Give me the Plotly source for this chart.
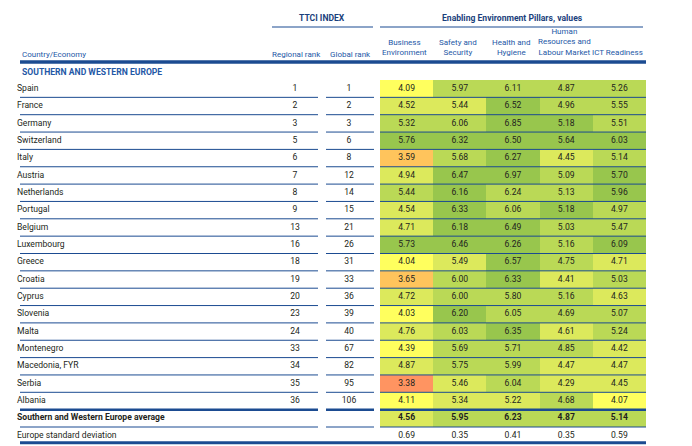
import plotly.graph_objects as go

# ── Data ──────────────────────────────────────────────────────────────────────
COUNTRIES = ["Spain", "France", "Germany", "Switzerland", "Italy", "Austria",
             "Netherlands", "Portugal", "Belgium", "Luxembourg", "Greece",
             "Croatia", "Cyprus", "Slovenia", "Malta", "Montenegro",
             "Macedonia, FYR", "Serbia", "Albania"]
REGIONAL_RANK = [1, 2, 3, 5, 6, 7, 8, 9, 13, 16, 18, 19, 20, 23, 24, 33, 34, 35, 36]
GLOBAL_RANK = [1, 2, 3, 6, 8, 12, 14, 15, 21, 26, 31, 33, 36, 39, 40, 67, 82, 95, 106]
PILLARS = ["Business<br>Environment", "Safety and<br>Security", "Health and<br>Hygiene",
           "Human<br>Resources and<br>Labour Market", "ICT Readiness"]
BUSINESS = [4.09, 4.52, 5.32, 5.76, 3.59, 4.94, 5.44, 4.54, 4.71, 5.73,
            4.04, 3.65, 4.72, 4.03, 4.76, 4.39, 4.87, 3.38, 4.11]
SAFETY = [5.97, 5.44, 6.06, 6.32, 5.68, 6.47, 6.16, 6.33, 6.18, 6.46,
          5.49, 6.00, 6.00, 6.20, 6.03, 5.69, 5.75, 5.46, 5.34]
HEALTH = [6.11, 6.52, 6.85, 6.50, 6.27, 6.97, 6.24, 6.06, 6.49, 6.26,
          6.57, 6.33, 5.80, 6.05, 6.35, 5.71, 5.99, 6.04, 5.22]
HUMAN = [4.87, 4.96, 5.18, 5.64, 4.45, 5.09, 5.13, 5.18, 5.03, 5.16,
         4.75, 4.41, 5.16, 4.69, 4.61, 4.85, 4.47, 4.29, 4.68]
ICT = [5.26, 5.55, 5.51, 6.03, 5.14, 5.70, 5.96, 4.97, 5.47, 6.09,
       4.71, 5.03, 4.63, 5.07, 5.24, 4.42, 4.47, 4.45, 4.07]
AVERAGE = [4.56, 5.95, 6.23, 4.87, 5.14]
STD_DEV = [0.69, 0.35, 0.41, 0.35, 0.59]
AVG_LABEL = "Southern and Western Europe average"
STD_LABEL = "Europe standard deviation"
REGION = "SOUTHERN AND WESTERN EUROPE"

# shading band cut points, one list per pillar (values below cut[k] -> band k)
CUTS = [[3.5, 3.8, 4.45, 5.0, 5.6],
        [1, 2, 3, 5.55, 6.1],
        [1, 2, 3, 5.5, 6.25],
        [1, 2, 3, 4.65, 5.17],
        [1, 2, 4.3, 4.9, 5.6]]
BAND_COLORS = ["#FF9461", "#FFC45C", "#FFFF5E", "#DCE95C", "#BAD956", "#98C64D"]

# ── Layout constants ──────────────────────────────────────────────────────────
W, H = 692, 446
PAD = 8  # page body margin around the plot div
FONT = "Roboto, Liberation Sans, sans-serif"
FS = 8.6
TXT = "#231F20"
BLUE = "#2458A6"
NAVY = "#1B3F7C"
LINE = "#1B4B91"
TOP, RH = 80, 17.35
X0, CW = 380, 53.2
NAME_X, REG_X, GLOB_X = 20, 295, 349
SEGS = [(20, 318), (326, 374), (380, 646)]


def row_y(i):
    return TOP + RH * (i + 0.5)


def band(v, cuts):
    return sum(v >= c for c in cuts)


columns = [BUSINESS, SAFETY, HEALTH, HUMAN, ICT]
n = len(COUNTRIES)
col_x = [X0 + CW * (j + 0.5) for j in range(5)]
ys = [row_y(i) for i in range(n + 1)]

z = []
for i in range(n):
    z.append([band(columns[j][i], CUTS[j]) for j in range(5)])
z.append([band(AVERAGE[j], CUTS[j]) for j in range(5)])

nb = len(BAND_COLORS)
colorscale = []
for k, c in enumerate(BAND_COLORS):
    colorscale += [[k / nb, c], [(k + 1) / nb, c]]

fig = go.Figure()
fig.add_trace(go.Heatmap(
    x=col_x, y=ys, z=z, zmin=-0.5, zmax=nb - 0.5,
    colorscale=colorscale, showscale=False, hoverinfo="skip",
))

body_font = dict(family=FONT, size=FS, color=TXT)

# pillar values
for j in range(5):
    fig.add_trace(go.Scatter(
        x=[col_x[j]] * n, y=ys[:n], mode="text",
        text=[f"{v:.2f}" for v in columns[j]],
        textfont=body_font, hoverinfo="skip",
    ))
fig.add_trace(go.Scatter(
    x=col_x, y=[row_y(n)] * 5, mode="text",
    text=[f"<b>{v:.2f}</b>" for v in AVERAGE],
    textfont=body_font, hoverinfo="skip",
))
fig.add_trace(go.Scatter(
    x=col_x, y=[row_y(n + 1)] * 5, mode="text",
    text=[f"{v:.2f}" for v in STD_DEV],
    textfont=body_font, hoverinfo="skip",
))

# names and ranks
fig.add_trace(go.Scatter(
    x=[NAME_X - 3] * (n + 2), y=[row_y(i) for i in range(n + 2)], mode="text",
    text=COUNTRIES + [f"<b>{AVG_LABEL}</b>", STD_LABEL], textposition="middle right",
    textfont=body_font, hoverinfo="skip",
))
fig.add_trace(go.Scatter(
    x=[REG_X] * n, y=ys[:n], mode="text", text=[str(r) for r in REGIONAL_RANK],
    textfont=body_font, hoverinfo="skip",
))
fig.add_trace(go.Scatter(
    x=[GLOB_X] * n, y=ys[:n], mode="text", text=[str(r) for r in GLOBAL_RANK],
    textfont=body_font, hoverinfo="skip",
))

# ── Rules ─────────────────────────────────────────────────────────────────────
shapes = []
for k in range(1, n + 2):
    yk = TOP + RH * k
    width = 2.5 if k == n else 1
    for a, b in SEGS:
        shapes.append(dict(type="line", x0=a, x1=b, y0=yk, y1=yk,
                           line=dict(color=LINE, width=width)))
ybot = TOP + RH * (n + 2) - 1.5
shapes.append(dict(type="line", x0=20, x1=646, y0=ybot, y1=ybot,
                   line=dict(color=LINE, width=3)))
shapes.append(dict(type="line", x0=20, x1=646, y0=62, y1=62,
                   line=dict(color=LINE, width=3.5)))
shapes.append(dict(type="line", x0=272, x1=373, y0=27, y1=27,
                   line=dict(color=LINE, width=1.2)))
shapes.append(dict(type="line", x0=380, x1=643, y0=27, y1=27,
                   line=dict(color=LINE, width=1.2)))

# ── Headers ───────────────────────────────────────────────────────────────────
ann = [
    dict(x=322, y=18, text="<b>TTCI INDEX</b>", font=dict(color=NAVY, size=8.6)),
    dict(x=512, y=18, text="<b>Enabling Environment Pillars, values</b>",
         font=dict(color=NAVY, size=8.6)),
    dict(x=NAME_X, y=54, text="Country/Economy", xanchor="left",
         font=dict(color=BLUE, size=8)),
    dict(x=296, y=54, text="Regional rank", font=dict(color=BLUE, size=8)),
    dict(x=350, y=54, text="Global rank", font=dict(color=BLUE, size=8)),
    dict(x=NAME_X, y=72, text=f"<b>{REGION}</b>", xanchor="left",
         font=dict(color=BLUE, size=8.6)),
]
for j, p in enumerate(PILLARS):
    ann.append(dict(x=col_x[j] - 2, y=59, text=p, yanchor="bottom",
                    font=dict(color=BLUE, size=8)))
for a in ann:
    a.setdefault("xref", "x")
    a.setdefault("yref", "y")
    a.setdefault("showarrow", False)
    a.setdefault("yanchor", "middle")
    a["font"]["family"] = FONT

fig.update_layout(
    width=W - PAD, height=H - PAD, autosize=False,
    margin=dict(l=0, r=0, t=0, b=0),
    paper_bgcolor="white", plot_bgcolor="white",
    showlegend=False,
    xaxis=dict(range=[PAD, W], visible=False, fixedrange=True),
    yaxis=dict(range=[H, PAD], visible=False, fixedrange=True),
    shapes=shapes, annotations=ann,
)
fig.write_html("out.html")
